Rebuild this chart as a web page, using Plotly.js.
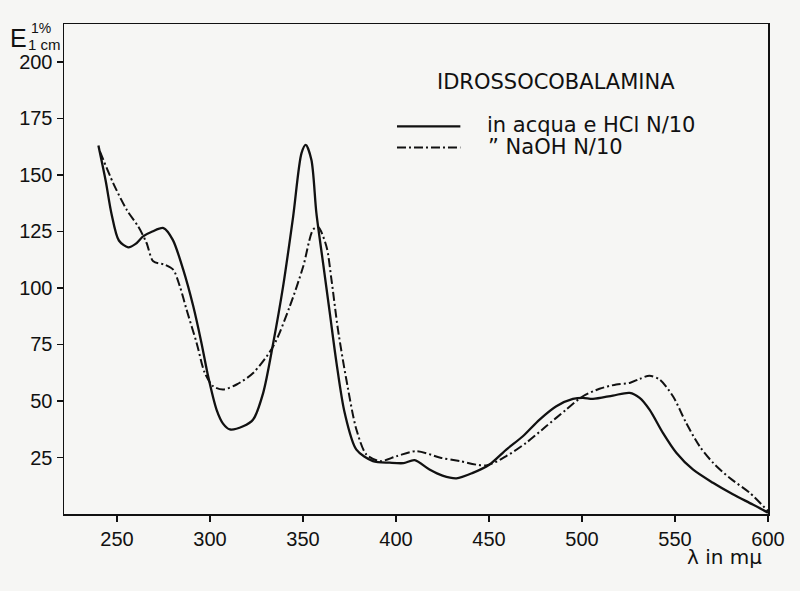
<!DOCTYPE html>
<html><head><meta charset="utf-8">
<script src="https://cdn.plot.ly/plotly-3.0.1.min.js"></script>
<style>html,body{margin:0;padding:0;background:#f6f6f4;}#chart{width:800px;height:591px;}</style>
</head><body><div id="chart"></div>
<script>
// Solid: in acqua e HCl N/10
const hclX = [240, 244, 247, 251, 256, 260, 264, 269, 275, 280, 285.6, 291, 295.4, 299, 303.5, 307, 310.7, 317.8, 323.2, 328.6, 334, 339.3, 344.7, 349.2, 351.5, 354.5, 357.2, 360.8, 364.4, 368, 372.4, 378.7, 387.6, 396.6, 404, 410, 418, 425, 432.5, 441.3, 450.3, 459.3, 468.2, 477.2, 486.2, 495.1, 500.5, 505.9, 516.6, 525.6, 531, 536.3, 543.5, 550.7, 559.6, 570.4, 581.1, 591.8, 600];
const hclY = [163, 147, 133, 121, 118, 119.5, 122.8, 125, 126.5, 121.3, 108.1, 91.9, 75.7, 60.9, 46.2, 40, 37.4, 38.8, 41.8, 53.6, 75.7, 100.7, 131.6, 159.7, 163.3, 156.7, 133.1, 111, 89, 66.9, 44.8, 28.5, 23.4, 22.7, 22.5, 23.8, 19.7, 17, 15.8, 18.2, 21.9, 28.5, 34.4, 41.8, 47.7, 50.9, 51.4, 50.9, 52.4, 53.6, 51.4, 46.2, 35.9, 27.1, 19.7, 13.8, 8.7, 4.2, 0.6];
// Dash-dot: NaOH N/10
const naohX = [240.8, 248, 255.2, 261.4, 265.9, 269.5, 275.7, 280.2, 283.8, 287.4, 292.8, 297.2, 301.7, 307.1, 314.3, 323.2, 334, 342.9, 350.1, 355.4, 358.1, 362.6, 365.3, 368.8, 373.3, 378.7, 384.1, 391.4, 400.4, 411.1, 423.9, 434.2, 448.5, 459.3, 470, 480.7, 491.5, 500.5, 509.4, 518.4, 525.6, 531, 536.3, 541.7, 548.9, 556, 563.2, 570.4, 579.3, 590.1, 600];
const naohY = [160.4, 146.3, 134.6, 127.2, 119.9, 111.8, 110.3, 108.1, 100.7, 90.4, 75.7, 62.4, 56.5, 55.1, 57.3, 62.4, 74.2, 91.9, 109.5, 125.8, 127, 118.4, 103.7, 81.6, 59.5, 37.4, 26.3, 23.4, 25.6, 27.8, 24.9, 23.4, 21.5, 25.6, 31.5, 38.8, 46.2, 52.1, 55.4, 57.3, 58, 59.8, 61.2, 59.5, 52.1, 40.3, 30, 22.7, 16, 9.4, 1.3];
const xTicks = [250, 300, 350, 400, 450, 500, 550, 600];
const yTicks = [25, 50, 75, 100, 125, 150, 175, 200];
const chartTitle = "IDROSSOCOBALAMINA";
const series1Name = "in acqua e HCl N/10";
const series2Name = "\u201D NaOH N/10";

const FONT = "'Liberation Sans', Arial, sans-serif";
const LFONT = "'DejaVu Sans', sans-serif";
const DASHDOT = "9px,3px,2px,3px";

const traces = [
  {x: hclX, y: hclY, mode: 'lines', name: series1Name,
   line: {color: '#111', width: 2.3, shape: 'spline', smoothing: 0.8}},
  {x: naohX, y: naohY, mode: 'lines', name: series2Name,
   line: {color: '#111', width: 2, dash: DASHDOT, shape: 'spline', smoothing: 0.8}}
];

const layout = {
  width: 800, height: 591,
  margin: {l: 64, r: 32, t: 24, b: 77},
  paper_bgcolor: '#f6f6f4', plot_bgcolor: '#f6f6f4',
  showlegend: false,
  font: {family: FONT, color: '#111', size: 19},
  xaxis: {range: [221.5, 600], tickvals: xTicks, ticks: 'outside', ticklen: 6, tickwidth: 1.5,
          tickcolor: '#111', showline: true, linecolor: '#111', linewidth: 1.5, mirror: true,
          showgrid: false, zeroline: false, tickfont: {family: FONT, size: 20}},
  yaxis: {range: [0, 216.8], tickvals: yTicks, ticks: 'outside', ticklen: 6, tickwidth: 1.5,
          tickcolor: '#111', showline: true, linecolor: '#111', linewidth: 1.5, mirror: true,
          showgrid: false, zeroline: false, tickfont: {family: FONT, size: 20}},
  shapes: [
    {type: 'line', xref: 'paper', yref: 'paper', x0: 0.473, x1: 0.563, y0: 0.791, y1: 0.791,
     line: {color: '#111', width: 2.3}},
    {type: 'line', xref: 'paper', yref: 'paper', x0: 0.473, x1: 0.563, y0: 0.748, y1: 0.748,
     line: {color: '#111', width: 2, dash: DASHDOT}}
  ],
  annotations: [
    {text: chartTitle, xref: 'paper', yref: 'paper', x: 0.699, y: 0.882, xanchor: 'center', yanchor: 'middle',
     showarrow: false, font: {family: LFONT, size: 21}},
    {text: series1Name, xref: 'paper', yref: 'paper', x: 0.598, y: 0.793, xanchor: 'left', yanchor: 'middle',
     showarrow: false, font: {family: LFONT, size: 21}},
    {text: series2Name, xref: 'paper', yref: 'paper', x: 0.600, y: 0.748, xanchor: 'left', yanchor: 'middle',
     showarrow: false, font: {family: LFONT, size: 21}},
    {text: "E", xref: 'paper', yref: 'paper', x: -0.0646, y: 0.972, xanchor: 'center', yanchor: 'middle',
     showarrow: false, font: {family: FONT, size: 25}},
    {text: "1%", xref: 'paper', yref: 'paper', x: -0.0327, y: 0.992, xanchor: 'center', yanchor: 'middle',
     showarrow: false, font: {family: FONT, size: 14}},
    {text: "1 cm", xref: 'paper', yref: 'paper', x: -0.0284, y: 0.959, xanchor: 'center', yanchor: 'middle',
     showarrow: false, font: {family: FONT, size: 15}},
    {text: "\u03BB in m\u03BC", xref: 'paper', yref: 'paper', x: 0.995, y: -0.088, xanchor: 'right', yanchor: 'middle',
     showarrow: false, font: {family: LFONT, size: 20}}
  ]
};
Plotly.newPlot('chart', traces, layout, {displayModeBar: false, staticPlot: true});
</script></body></html>
